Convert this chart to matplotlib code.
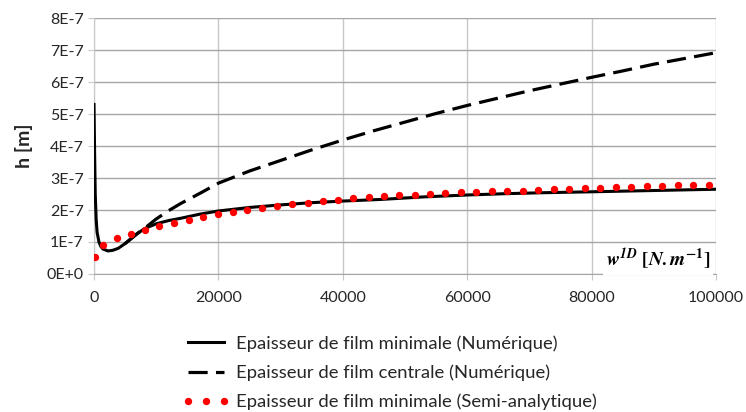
import numpy as np
import matplotlib
matplotlib.use("Agg")
import matplotlib.pyplot as plt

# film thickness data
x_min_num = [0, 100, 200, 350, 500, 800, 1100, 1450, 2250, 3000, 3870, 5000, 6000, 7000,
             8150, 10000, 12000, 13900, 17000, 20000, 25000, 30000, 35000, 40000, 46000,
             53000, 60000, 66000, 72000, 80000, 90000, 100000]
h_min_num = [5.30, 3.80, 2.50, 1.70, 1.30, 1.00, 0.86, 0.78, 0.72, 0.74, 0.80, 0.95, 1.11, 1.27,
             1.42, 1.57, 1.67, 1.74, 1.87, 1.97, 2.08, 2.16, 2.23, 2.28, 2.33,
             2.41, 2.47, 2.51, 2.54, 2.57, 2.61, 2.65]

x_cen_num = [5000, 6000, 7000, 8150, 10000, 12000, 13900, 17100, 20000, 25000, 30000, 35000,
             40000, 45000, 50000, 55000, 60000, 65000, 70000, 75000, 80000, 85000, 90000,
             95000, 100000]
h_cen_num = [0.95, 1.11, 1.27, 1.43, 1.72, 1.98, 2.20, 2.53, 2.84, 3.22, 3.55, 3.88,
             4.19, 4.48, 4.75, 5.02, 5.27, 5.50, 5.73, 5.94, 6.15, 6.35, 6.56,
             6.74, 6.92]

x_semi = [160, 1500, 3660, 5910, 8220, 10470, 12840, 15190, 17510, 19870, 22280, 24650,
          27020, 29440, 31850, 34320, 36780, 39200, 41680, 44140, 46610, 49090, 51560,
          53970, 56440, 58970, 61430, 63960, 66430, 68910, 71370, 73900, 76410, 78890,
          81410, 83890, 86350, 88880, 91350, 93880, 96340, 98870]
h_semi = [0.54, 0.90, 1.11, 1.25, 1.37, 1.49, 1.60, 1.70, 1.78, 1.87, 1.94, 2.01,
          2.07, 2.14, 2.19, 2.23, 2.28, 2.31, 2.37, 2.40, 2.43, 2.46, 2.48,
          2.50, 2.53, 2.55, 2.57, 2.58, 2.59, 2.61, 2.62, 2.66, 2.66, 2.69,
          2.69, 2.72, 2.72, 2.75, 2.75, 2.77, 2.77, 2.78]

y_ticks = [0, 1, 2, 3, 4, 5, 6, 7, 8]
y_ticklabels = ["0E+0", "1E-7", "2E-7", "3E-7", "4E-7", "5E-7", "6E-7", "7E-7", "8E-7"]
x_ticks = [0, 20000, 40000, 60000, 80000, 100000]

labels = ["Epaisseur de film minimale (Numérique)",
          "Epaisseur de film centrale (Numérique)",
          "Epaisseur de film minimale (Semi-analytique)"]


def main():
    plt.rcParams["font.family"] = ["Lato", "DejaVu Sans"]
    plt.rcParams["mathtext.fontset"] = "stix"

    fig = plt.figure(figsize=(7.46, 4.12), dpi=100)
    ax = fig.add_axes([0.126, 0.335, 0.834, 0.621])

    scale = 1e-7
    ax.plot(x_min_num, np.array(h_min_num) * scale, color="black", lw=2.2,
            label=labels[0], zorder=4)
    ax.plot(x_cen_num, np.array(h_cen_num) * scale, color="black", lw=2.3,
            dashes=(6, 2.6), label=labels[1], zorder=3)
    ax.plot(x_semi, np.array(h_semi) * scale, color="#ff0000", ls="none", marker="o",
            ms=5.3, markeredgewidth=0, label=labels[2], zorder=5)

    ax.set_xlim(0, 100000)
    ax.set_ylim(0, 8e-7)
    ax.set_xticks(x_ticks)
    ax.set_xticklabels([str(v) for v in x_ticks])
    ax.set_yticks(np.array(y_ticks) * scale)
    ax.set_yticklabels(y_ticklabels)

    ax.grid(axis="y", color="#a6a6a6", lw=1)
    ax.grid(axis="x", color="#c8c8c8", lw=1)
    ax.set_axisbelow(True)
    for side in ["top", "right"]:
        ax.spines[side].set_visible(False)
    ax.spines["left"].set_color("#c8c8c8")
    ax.spines["bottom"].set_color("#a6a6a6")
    ax.tick_params(axis="both", colors="#c8c8c8", length=4, labelcolor="#262626",
                   labelsize=11.5)
    ax.tick_params(axis="x", pad=8)

    ax.set_ylabel("h [m]", fontsize=14, fontweight="bold", color="#262626", labelpad=10)

    ax.text(0.99, 0.055, r"$\mathbfit{w}^{\mathbfit{1D}}\ \mathbf{[}\mathbfit{N.m}^{\mathbf{-1}}\mathbf{]}$",
            transform=ax.transAxes, ha="right", va="center", fontsize=14,
            bbox=dict(facecolor="white", edgecolor="none", pad=2), zorder=6)

    fig.legend(loc="upper left", bbox_to_anchor=(0.245, 0.186), frameon=False,
               fontsize=13.3, handlelength=2.55, handletextpad=0.35, labelspacing=0.68,
               borderpad=0, borderaxespad=0, numpoints=3, labelcolor="#262626")

    fig.savefig("out.png", dpi=100)


if __name__ == "__main__":
    main()
